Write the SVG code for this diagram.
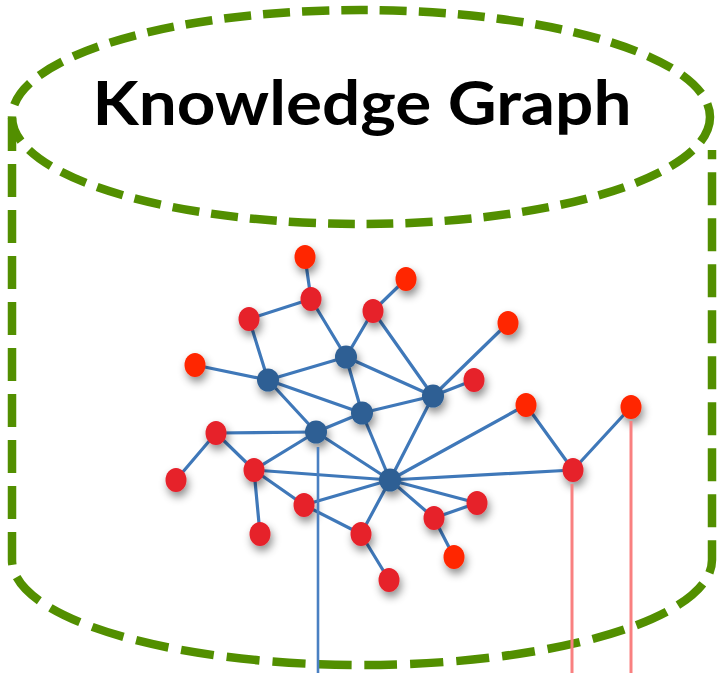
<svg xmlns="http://www.w3.org/2000/svg" width="720" height="673" viewBox="0 0 720 673">
<defs>
<filter id="sh" x="-80%" y="-80%" width="260%" height="260%">
<feDropShadow dx="2" dy="5" stdDeviation="4" flood-color="#000" flood-opacity="0.45"/>
</filter>
<style>
.cyl{fill:none;stroke:#528f00;stroke-width:8.5;stroke-dasharray:33 13}
.top{fill:none;stroke:#528f00;stroke-width:8.5;stroke-dasharray:27 12}
.e{stroke:#3f78b9;stroke-width:3.2;fill:none;stroke-linecap:round}
.r{fill:#e6202b;filter:url(#sh)}
.o{fill:#ff2600;filter:url(#sh)}
.b{fill:#2d5f94;filter:url(#sh)}
.vb{stroke:#4a80c2;stroke-width:2.6;fill:none}
.vp{stroke:#f98080;stroke-width:3;fill:none}
.t{font-family:Lato,"Open Sans","Liberation Sans",sans-serif;font-size:62px;font-weight:700;fill:#000}
</style>
</defs>
<g id="cylinder">
<ellipse class="top" cx="361" cy="117" rx="349" ry="107"/>
<path class="cyl" d="M12,118 V560 A350,105 0 0 0 712,560 V150"/>
</g>
<text class="t" x="362" y="125" text-anchor="middle" textLength="539" lengthAdjust="spacingAndGlyphs">Knowledge Graph</text>
<g id="connectors">
<line class="e" x1="305" y1="257" x2="311" y2="299"/>
<line class="e" x1="311" y1="299" x2="249" y2="319"/>
<line class="e" x1="311" y1="299" x2="346" y2="357"/>
<line class="e" x1="406" y1="279" x2="373" y2="311"/>
<line class="e" x1="373" y1="311" x2="346" y2="357"/>
<line class="e" x1="373" y1="311" x2="433" y2="396"/>
<line class="e" x1="249" y1="319" x2="268" y2="380"/>
<line class="e" x1="195" y1="365" x2="268" y2="380"/>
<line class="e" x1="268" y1="380" x2="346" y2="357"/>
<line class="e" x1="268" y1="380" x2="362" y2="413"/>
<line class="e" x1="268" y1="380" x2="316" y2="432"/>
<line class="e" x1="346" y1="357" x2="362" y2="413"/>
<line class="e" x1="346" y1="357" x2="433" y2="396"/>
<line class="e" x1="316" y1="432" x2="362" y2="413"/>
<line class="e" x1="362" y1="413" x2="433" y2="396"/>
<line class="e" x1="362" y1="413" x2="390" y2="480"/>
<line class="e" x1="433" y1="396" x2="390" y2="480"/>
<line class="e" x1="433" y1="396" x2="508" y2="323"/>
<line class="e" x1="433" y1="396" x2="474" y2="380"/>
<line class="e" x1="316" y1="432" x2="390" y2="480"/>
<line class="e" x1="216" y1="433" x2="316" y2="432"/>
<line class="e" x1="216" y1="433" x2="254" y2="470"/>
<line class="e" x1="216" y1="433" x2="176" y2="480"/>
<line class="e" x1="254" y1="470" x2="316" y2="432"/>
<line class="e" x1="254" y1="470" x2="390" y2="480"/>
<line class="e" x1="254" y1="470" x2="304" y2="505"/>
<line class="e" x1="254" y1="470" x2="260" y2="534"/>
<line class="e" x1="304" y1="505" x2="390" y2="480"/>
<line class="e" x1="304" y1="505" x2="361" y2="534"/>
<line class="e" x1="390" y1="480" x2="361" y2="534"/>
<line class="e" x1="361" y1="534" x2="389" y2="580"/>
<line class="e" x1="390" y1="480" x2="434" y2="518"/>
<line class="e" x1="390" y1="480" x2="477" y2="503"/>
<line class="e" x1="434" y1="518" x2="477" y2="503"/>
<line class="e" x1="434" y1="518" x2="454" y2="557"/>
<line class="e" x1="390" y1="480" x2="526" y2="405"/>
<line class="e" x1="390" y1="480" x2="573" y2="470"/>
<line class="e" x1="526" y1="405" x2="573" y2="470"/>
<line class="e" x1="631" y1="407" x2="573" y2="470"/>
</g>
<g id="nodes">
<ellipse id="r1" class="o" cx="305" cy="257" rx="10.5" ry="12"/>
<ellipse id="r2" class="r" cx="311" cy="299" rx="10.5" ry="12"/>
<ellipse id="r3" class="r" cx="249" cy="319" rx="10.5" ry="12"/>
<ellipse id="r4" class="o" cx="406" cy="279" rx="10.5" ry="12"/>
<ellipse id="r5" class="r" cx="373" cy="311" rx="10.5" ry="12"/>
<ellipse id="r6" class="o" cx="195" cy="365" rx="10.5" ry="12"/>
<ellipse id="r7" class="o" cx="508" cy="323" rx="10.5" ry="12"/>
<ellipse id="r8" class="r" cx="474" cy="380" rx="10.5" ry="12"/>
<ellipse id="r9" class="o" cx="526" cy="405" rx="10.5" ry="12"/>
<ellipse id="r10" class="o" cx="631" cy="407" rx="10.5" ry="12"/>
<ellipse id="r11" class="r" cx="216" cy="433" rx="10.5" ry="12"/>
<ellipse id="r12" class="r" cx="254" cy="470" rx="10.5" ry="12"/>
<ellipse id="r13" class="r" cx="176" cy="480" rx="10.5" ry="12"/>
<ellipse id="r14" class="r" cx="304" cy="505" rx="10.5" ry="12"/>
<ellipse id="r15" class="r" cx="260" cy="534" rx="10.5" ry="12"/>
<ellipse id="r16" class="r" cx="361" cy="534" rx="10.5" ry="12"/>
<ellipse id="r17" class="r" cx="434" cy="518" rx="10.5" ry="12"/>
<ellipse id="r18" class="r" cx="477" cy="503" rx="10.5" ry="12"/>
<ellipse id="r19" class="o" cx="454" cy="557" rx="10.5" ry="12"/>
<ellipse id="r20" class="r" cx="389" cy="580" rx="10.5" ry="12"/>
<ellipse id="r21" class="r" cx="573" cy="470" rx="10.5" ry="12"/>
<ellipse id="b1" class="b" cx="268" cy="380" rx="11" ry="11.5"/>
<ellipse id="b2" class="b" cx="346" cy="357" rx="11" ry="11.5"/>
<ellipse id="b3" class="b" cx="362" cy="413" rx="11" ry="11.5"/>
<ellipse id="b4" class="b" cx="433" cy="396" rx="11" ry="11.5"/>
<ellipse id="b5" class="b" cx="316" cy="432" rx="11" ry="11.5"/>
<ellipse id="b6" class="b" cx="390" cy="480" rx="11" ry="11.5"/>
</g>
<g id="links-down">
<line class="vb" x1="318" y1="447" x2="318" y2="673"/>
<line class="vp" x1="572" y1="484" x2="572" y2="673"/>
<line class="vp" x1="631" y1="421" x2="631" y2="673"/>
</g>
</svg>
